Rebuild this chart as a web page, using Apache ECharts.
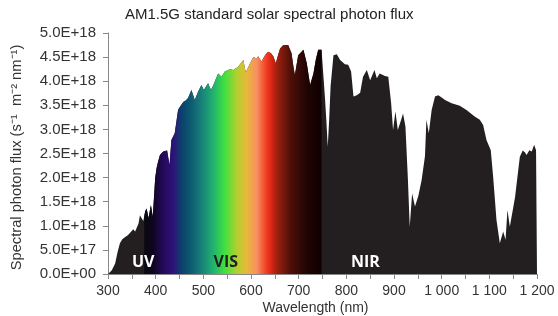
<!DOCTYPE html>
<html>
<head>
<meta charset="utf-8">
<script src="https://cdn.jsdelivr.net/npm/echarts@6/dist/echarts.min.js"></script>
<style>
  html, body { margin: 0; padding: 0; background: #fff; }
  #chart { width: 558px; height: 316px; }
</style>
</head>
<body>
<div id="chart"></div>
<script>
  // wavelength (nm) and photon flux (x 1E18 s-1 m-2 nm-1)
  const wavelength = [
    300, 302, 308, 315, 320, 325, 330, 336, 341, 346, 353, 357, 360, 364, 367, 371, 374, 376,
    378, 381, 385, 390, 394, 399, 402, 405, 409, 413, 416, 420, 424, 429, 433, 440, 447, 451,
    458, 463, 468, 475, 482, 489, 496, 501, 510, 516, 521, 531, 538, 545, 556, 563, 573, 584,
    589, 598, 605, 612, 615, 622, 630, 636, 642, 647, 652, 657, 661, 668, 678, 685, 689, 692,
    699, 710, 717, 724, 731, 736, 741, 748, 752, 755, 758, 761, 764, 767, 773, 780, 787, 797,
    804, 810, 815, 822, 829, 835, 843, 850, 854, 859, 864, 870, 881, 888, 894, 898, 903, 908,
    915, 919, 924, 929, 933, 938, 944, 951, 958, 965, 968, 973, 979, 986, 993, 1000, 1007, 1010,
    1021, 1038, 1052, 1070, 1080, 1087, 1094, 1103, 1108, 1115, 1122, 1129, 1134, 1138, 1143,
    1154, 1164, 1170, 1175, 1178, 1184, 1189, 1194, 1198, 1200
  ]
  const flux = [
    0, 0.01, 0.08, 0.22, 0.45, 0.64, 0.72, 0.77, 0.80, 0.85, 0.93, 0.88, 0.91, 1.05, 1.22, 1.26, 1.10, 1.20,
    1.30, 1.36, 1.16, 1.43, 1.19, 1.99, 2.20, 2.33, 2.47, 2.50, 2.54, 2.54, 2.56, 2.26, 2.78, 2.92, 3.40, 3.47,
    3.57, 3.60, 3.65, 3.82, 3.61, 3.78, 3.92, 3.82, 3.96, 3.82, 3.92, 4.16, 4.09, 4.20, 4.25, 4.23, 4.30, 4.44,
    4.18, 4.37, 4.50, 4.47, 4.52, 4.41, 4.55, 4.61, 4.58, 4.51, 4.37, 4.55, 4.68, 4.75, 4.75, 4.58, 4.30, 4.13,
    4.54, 4.65, 4.37, 3.92, 4.16, 4.45, 4.65, 4.65, 4.65, 3.68, 3.20, 2.64, 3.20, 3.90, 4.54, 4.56, 4.44, 4.35,
    4.34, 4.20, 3.68, 3.71, 3.76, 4.09, 4.23, 4.02, 4.02, 4.23, 4.06, 4.16, 4.11, 4.09, 3.54, 2.99, 3.37, 2.99,
    3.20, 3.33, 3.06, 2.00, 0.98, 1.67, 1.40, 1.62, 1.95, 2.45, 3.20, 2.92, 3.40, 3.68, 3.71, 3.66, 3.61, 3.62,
    3.54, 3.49, 3.40, 3.26, 3.20, 3.09, 2.78, 2.57, 2.02, 1.12, 0.64, 0.88, 0.71, 1.33, 0.98,
    1.60, 2.43, 2.56, 2.52, 2.47, 2.57, 2.54, 2.68, 2.57, 2.55
  ]
  const visStart = 376
  const visEnd = 748
  // spectrum colours across the visible band
  const spectrumNm = [376, 395, 415, 435, 457, 475, 493, 520, 545, 570, 591, 612, 633, 645, 654, 682, 717, 748]
  const spectrumColor = ['#0a0810', '#0e0522', '#250a58', '#2e1078', '#0a456c', '#0d5d72', '#187a7a', '#20b070',
    '#40e040', '#b0d030', '#e8b838', '#f89060', '#f03a20', '#d02412', '#a02010', '#501008', '#200404', '#100000']
  const regionNames = ['UV', 'VIS', 'NIR']
  const regionNm = [374, 547, 840]
  const regionFlux = [0.24, 0.24, 0.24]
  const regionColor = ['#ffffff', '#231f20', '#ffffff']

  const all = wavelength.map((w, i) => [w, flux[i] * 1e18])
  const vis = all.filter(p => p[0] >= visStart && p[0] <= visEnd)
  const stops = spectrumNm.map((w, i) => ({
    offset: (w - visStart) / (visEnd - visStart),
    color: spectrumColor[i]
  }))

  const chart = echarts.init(document.getElementById('chart'))
  chart.setOption({
    animation: false,
    backgroundColor: '#fff',
    textStyle: { fontFamily: 'Liberation Sans' },
    title: {
      text: 'AM1.5G standard solar spectral photon flux',
      left: 120,
      top: 2,
      textStyle: { fontSize: 15, fontWeight: 'normal', color: '#222' }
    },
    grid: { left: 108, right: 21, top: 33, bottom: 42, outerBoundsMode: 'none' },
    xAxis: {
      type: 'value',
      min: 300,
      max: 1200,
      interval: 100,
      name: 'Wavelength (nm)',
      nameLocation: 'middle',
      nameGap: 27,
      nameMoveOverlap: false,
      nameTextStyle: { fontSize: 14, color: '#333', padding: [0, 14, 0, 0] },
      axisLine: { lineStyle: { color: '#888' } },
      axisTick: { length: 5, lineStyle: { color: '#888' } },
      minorTick: { show: true, splitNumber: 2, length: 5, lineStyle: { color: '#888' } },
      splitLine: { show: false },
      axisLabel: {
        fontSize: 14,
        color: '#333',
        margin: 10,
        formatter(v) {
          return v >= 1000 ? Math.floor(v / 1000) + ' ' + String(v % 1000).padStart(3, '0') : String(v)
        }
      }
    },
    yAxis: {
      type: 'value',
      min: 0,
      max: 5e18,
      interval: 5e17,
      name: 'Spectral photon flux (s\u207B\u00B9  m\u207B\u00B2 nm\u207B\u00B9)',
      nameLocation: 'middle',
      nameRotate: 90,
      nameGap: 84,
      nameMoveOverlap: false,
      nameTextStyle: { fontSize: 14.7, color: '#333', padding: [0, 8, 0, 0] },
      axisLine: { show: true, lineStyle: { color: '#888' } },
      axisTick: { show: true, length: 5, lineStyle: { color: '#888' } },
      splitLine: { show: false },
      axisLabel: {
        fontSize: 15,
        color: '#333',
        margin: 12,
        formatter(v) {
          if (v === 0) return '0.0E+00'
          let e = Math.floor(Math.log10(v) + 1e-9)
          let m = Math.round(v / Math.pow(10, e) * 10) / 10
          return m.toFixed(1) + 'E+' + String(e).padStart(2, '0')
        }
      }
    },
    series: [{
      name: 'spectrum',
      type: 'line',
      data: all,
      showSymbol: false,
      lineStyle: { width: 0 },
      areaStyle: { color: '#231f20', opacity: 1 },
      z: 2
    }, {
      name: 'visible',
      type: 'line',
      data: vis,
      showSymbol: false,
      lineStyle: { width: 0 },
      areaStyle: {
        opacity: 1,
        color: new echarts.graphic.LinearGradient(0, 0, 1, 0, stops)
      },
      z: 3
    }, {
      name: 'regions',
      type: 'scatter',
      symbolSize: 0,
      silent: true,
      z: 5,
      itemStyle: { opacity: 1 },
      data: regionNames.map((n, i) => ({
        name: n,
        value: [regionNm[i], regionFlux[i] * 1e18],
        label: { color: regionColor[i] }
      })),
      label: {
        show: true,
        position: 'inside',
        formatter: '{b}',
        fontFamily: 'Open Sans',
        fontWeight: 'bold',
        fontSize: 16
      }
    }]
  })
</script>
</body>
</html>
